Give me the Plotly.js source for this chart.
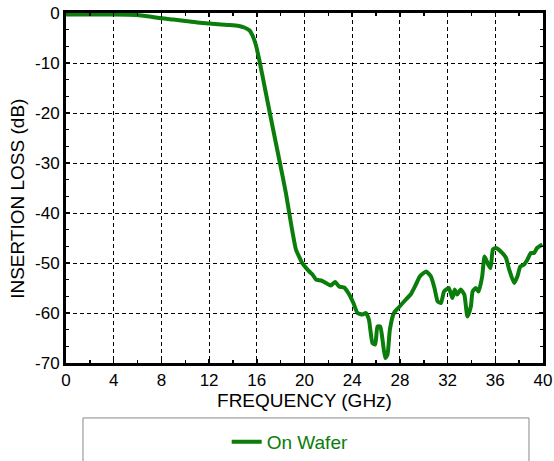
<!DOCTYPE html>
<html>
<head>
<meta charset="utf-8">
<script src="https://cdn.plot.ly/plotly-3.0.1.min.js"></script>
<style>html,body{margin:0;padding:0;background:#fff;}#chart{width:554px;height:461px;}</style>
</head>
<body>
<div id="chart"></div>
<script>
const freqGHz = [0, 2, 4, 5.9, 7, 7.8, 9, 10, 11, 12, 13, 13.7, 14.5, 14.95, 15.4, 15.64, 15.9, 16.2, 16.76, 17.32,
  17.88, 18.44, 18.86, 19.28, 19.56, 19.8, 20.1, 20.4, 20.67, 20.96, 21.4, 21.8, 22.2, 22.57, 22.9, 23.33, 23.75, 24.1, 24.45, 24.86,
  25.15, 25.4, 25.7, 25.93, 26.12, 26.35, 26.54, 26.77, 26.96, 27.16, 27.5, 27.94, 28.5, 28.9, 29.34, 29.67, 30.2, 30.6, 30.9, 31.17,
  31.45, 31.7, 32.1, 32.4, 32.6, 32.8, 33.1, 33.4, 33.66, 33.95, 34.1, 34.37, 34.6, 34.9, 35.1, 35.4, 35.6, 35.8, 36.04, 36.46,
  36.9, 37.16, 37.58, 37.85, 38.1, 38.42, 38.7, 38.98, 39.25, 39.5, 39.95];
const insertionLossDb = [-0.3, -0.3, -0.3, -0.4, -0.7, -1.0, -1.3, -1.6, -1.9, -2.1, -2.3, -2.4, -2.6, -2.9, -3.5, -4.5, -6.2, -9.3, -16, -22.7,
  -29.3, -36, -42, -47.3, -48.8, -50, -50.9, -51.7, -52.3, -53.3, -53.5, -54, -54.5, -53.8, -54.7, -54.9, -56.3, -58, -60, -60.3,
  -60, -61.3, -66, -66.3, -62.7, -62.7, -65.3, -69, -68.3, -63.3, -60, -58.8, -57.3, -56.3, -54.3, -52.7, -51.7, -52.7, -55, -57.7,
  -58, -55.7, -55, -57, -55.3, -56.3, -55.3, -56.3, -60.7, -58.7, -55.7, -55, -55.7, -52.7, -48.7, -50.3, -51, -47.3, -47, -47.7,
  -49, -51.3, -54, -52.7, -50.7, -50.3, -49.3, -48, -48, -47, -46.3];
const xTicks = [0, 4, 8, 12, 16, 20, 24, 28, 32, 36, 40];
const yTicks = [0, -10, -20, -30, -40, -50, -60, -70];
const seriesName = "On Wafer";

const font = "Liberation Sans, Arial, sans-serif";
const axisCommon = {
  showline: true, linecolor: "#000", linewidth: 3, mirror: "ticks",
  ticks: "inside", ticklen: 4, tickwidth: 1.5, tickcolor: "#000",
  showgrid: true, gridcolor: "#000", gridwidth: 1, griddash: "4px,3px",
  zeroline: false, automargin: false,
  tickfont: {family: font, size: 17, color: "#000"}
};

const trace = {
  x: freqGHz, y: insertionLossDb, type: "scatter", mode: "lines", name: seriesName,
  line: {color: "#0a7d0a", width: 4, shape: "spline", smoothing: 0.5}
};

const layout = {
  width: 554, height: 461,
  margin: {l: 66, r: 11, t: 13, b: 98, autoexpand: false},
  paper_bgcolor: "#fff", plot_bgcolor: "#fff",
  font: {family: font, color: "#000"},
  showlegend: true,
  xaxis: Object.assign({}, axisCommon, {
    range: [0, 40], tickvals: xTicks, ticktext: xTicks.map(String),
    minor: {dtick: 2, tick0: 0, ticks: "inside", ticklen: 3, tickcolor: "#000", showgrid: false},
    title: {text: "FREQUENCY (GHz)", font: {family: font, size: 19, color: "#000"}, standoff: 4}
  }),
  yaxis: Object.assign({}, axisCommon, {
    range: [-70, 0], tickvals: yTicks, ticktext: yTicks.map(String),
    minor: {dtick: 10/3, tick0: 0, ticks: "inside", ticklen: 3, tickcolor: "#000", showgrid: false}
  }),
  annotations: [{
    text: "INSERTION LOSS (dB)", textangle: -90, xref: "paper", yref: "paper",
    x: -0.1006, y: 0.469, xanchor: "center", yanchor: "middle", showarrow: false,
    font: {family: font, size: 19, color: "#000"}
  }],
  shapes: [{
    type: "rect", xref: "paper", yref: "paper", x0: 0.0356, x1: 0.9706, y0: -0.157, y1: -0.32,
    line: {color: "#888", width: 1}, fillcolor: "rgba(0,0,0,0)", layer: "below"
  }],
  legend: {
    orientation: "h", x: 0.47, xanchor: "center", y: -0.2257, yanchor: "middle",
    bgcolor: "rgba(0,0,0,0)", borderwidth: 0,
    font: {family: font, size: 19, color: "#0a7d0a"}
  }
};

Plotly.newPlot("chart", [trace], layout, {displayModeBar: false, staticPlot: true});
</script>
</body>
</html>
